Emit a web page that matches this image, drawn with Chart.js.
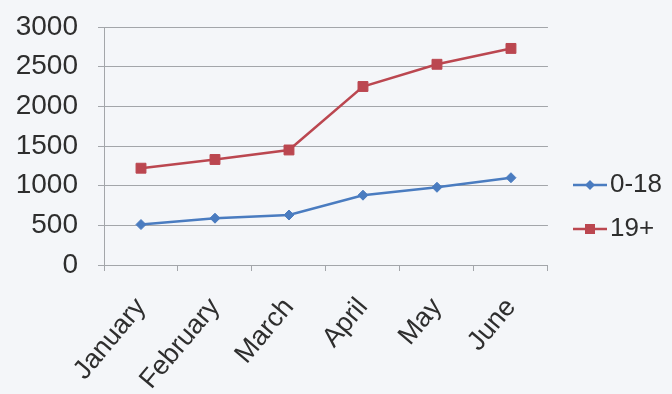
<!DOCTYPE html>
<html>
<head>
<meta charset="utf-8">
<script src="https://cdn.jsdelivr.net/npm/chart.js@4/dist/chart.umd.min.js"></script>
<style>
  html, body { margin: 0; padding: 0; background: #f4f6f9; }
  #wrap { width: 672px; height: 394px; }
</style>
</head>
<body>
<div id="wrap"><canvas id="chart" width="672" height="394"></canvas></div>
<script>
// Monthly counts by age group
const months = ['January', 'February', 'March', 'April', 'May', 'June'];
const seriesNames = ['0-18', '19+'];
const ages0to18 = [510, 590, 630, 880, 980, 1100];
const ages19plus = [1220, 1330, 1450, 2250, 2530, 2730];
const yTicks = [0, 500, 1000, 1500, 2000, 2500, 3000];

const BLUE = '#4a7cc0';
const RED = '#bb4750';
const GRID = '#a3a6aa';
const TEXT = '#2e2e2e';
const FONT = "'Liberation Sans', Arial, sans-serif";

// Legend swatch: short line with the series marker on it
function legendSwatch(color, shape) {
  const c = document.createElement('canvas');
  c.width = 51; c.height = 14;
  const g = c.getContext('2d');
  g.strokeStyle = color; g.lineWidth = 2.5;
  g.beginPath(); g.moveTo(17, 7); g.lineTo(51, 7); g.stroke();
  g.fillStyle = color;
  g.beginPath();
  if (shape === 'rectRot') {
    g.moveTo(34, 2); g.lineTo(39, 7); g.lineTo(34, 12); g.lineTo(29, 7);
  } else {
    g.rect(29, 2, 10, 10);
  }
  g.closePath(); g.fill();
  return c;
}
const swatches = [legendSwatch(BLUE, 'rectRot'), legendSwatch(RED, 'rect')];

new Chart(document.getElementById('chart'), {
  type: 'line',
  data: {
    labels: months,
    datasets: [
      {
        label: seriesNames[0], data: ages0to18,
        borderColor: BLUE, backgroundColor: BLUE, borderWidth: 2.5,
        pointStyle: 'rectRot', pointRadius: 5, pointBorderWidth: 1,
        pointBackgroundColor: BLUE, pointBorderColor: BLUE, tension: 0
      },
      {
        label: seriesNames[1], data: ages19plus,
        borderColor: RED, backgroundColor: RED, borderWidth: 2.5,
        pointStyle: 'rect', pointRadius: 7, pointBorderWidth: 1,
        pointBackgroundColor: RED, pointBorderColor: RED, tension: 0
      }
    ]
  },
  options: {
    responsive: false,
    animation: false,
    events: [],
    layout: { padding: { top: 20, right: 0, bottom: 0, left: 0 } },
    plugins: {
      tooltip: { enabled: false },
      legend: {
        position: 'right',
        align: 'center',
        labels: {
          usePointStyle: true,
          pointStyleWidth: 31,
          padding: 18,
          color: TEXT,
          font: { family: FONT, size: 26 },
          generateLabels(chart) {
            const items = Chart.defaults.plugins.legend.labels.generateLabels(chart);
            items.forEach((it, i) => { it.pointStyle = swatches[i]; });
            return items;
          }
        }
      }
    },
    scales: {
      x: {
        type: 'category',
        offset: true,
        grid: { display: true, drawOnChartArea: false, offset: true, tickLength: 6, color: GRID },
        border: { display: true, color: GRID, width: 1 },
        ticks: {
          color: TEXT, font: { family: FONT, size: 27 },
          minRotation: 50, maxRotation: 50, padding: 21, autoSkip: false
        },
        afterFit(scale) { scale.height = 129; }
      },
      y: {
        min: 0, max: 3000,
        afterBuildTicks(scale) { scale.ticks = yTicks.map(v => ({ value: v })); },
        grid: { color: GRID, tickLength: 6, lineWidth: 1 },
        border: { display: true, color: GRID, width: 1 },
        ticks: {
          color: TEXT, font: { family: FONT, size: 28 }, padding: 20,
          callback: (v) => String(v)
        },
        afterFit(scale) { scale.width = 104; scale.paddingTop = 27; }
      }
    }
  }
});
</script>
</body>
</html>
